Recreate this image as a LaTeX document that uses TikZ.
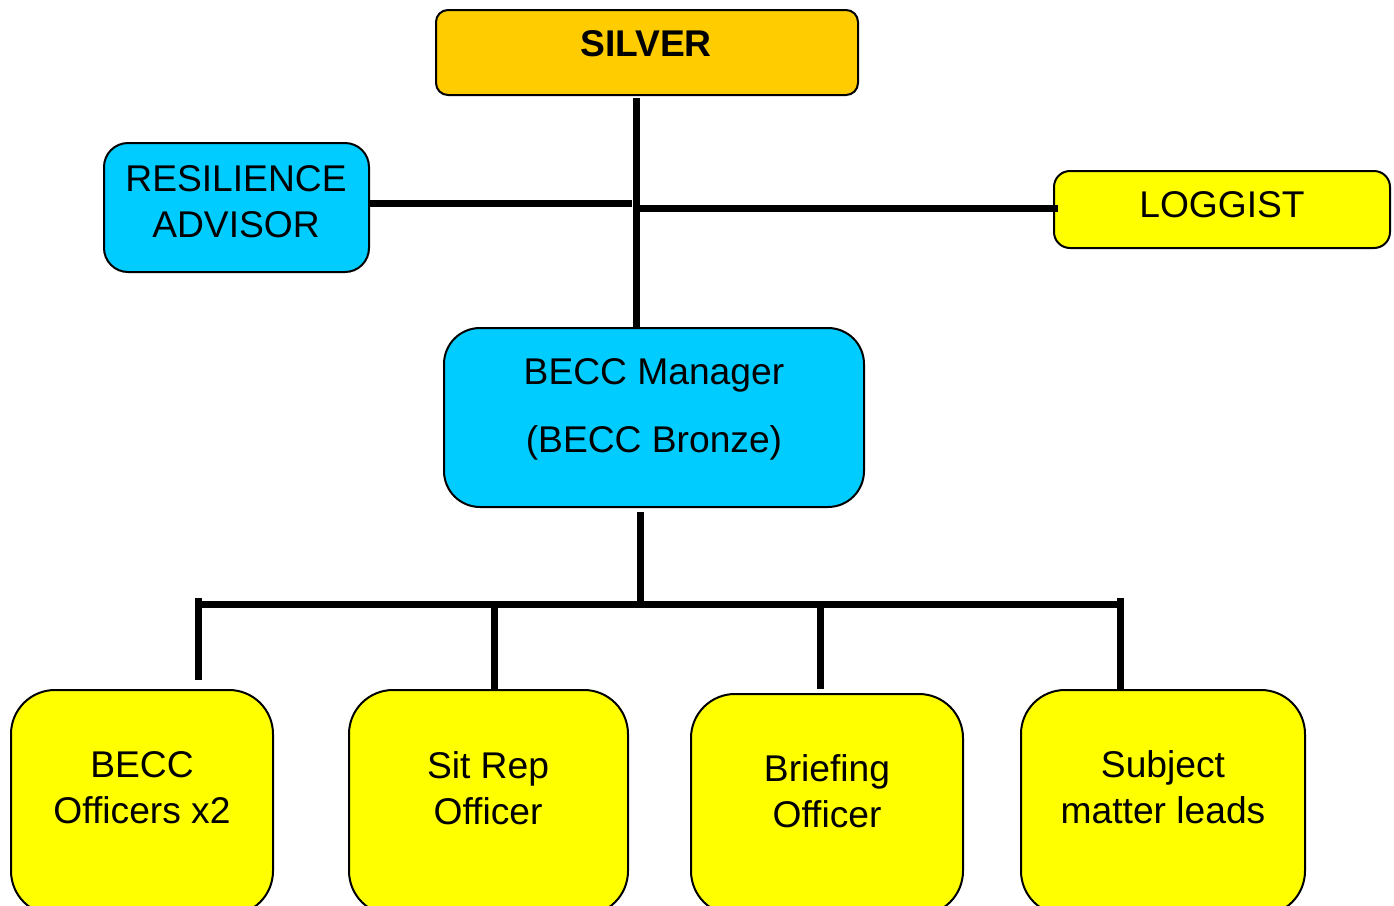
\documentclass[tikz,border=0pt]{standalone}
\usepackage{fontspec}
\setmainfont{Liberation Sans}
\definecolor{silverc}{HTML}{FFCC00}
\definecolor{cyanc}{HTML}{00CCFF}
\definecolor{yellowc}{HTML}{FFFF00}
\begin{document}
\begin{tikzpicture}[x=0.5pt,y=-0.5pt,
  box/.style={draw=black,line width=1pt,rectangle,inner sep=0pt},
  lbl/.style={align=center,font=\fontsize{18.6}{23}\selectfont,inner sep=0pt},
  conn/.style={line width=3.5pt,line cap=rect}]
\clip (0,0) rectangle (1394,906);
\fill[white] (0,0) rectangle (1394,906);
% boxes
\node[box,fill=silverc,rounded corners=6pt,minimum width=211pt,minimum height=42.5pt] (silver) at (647,52.5) {};
\node[box,fill=cyanc,rounded corners=12pt,minimum width=132.5pt,minimum height=64.5pt] (res) at (236.5,207.5) {};
\node[box,fill=yellowc,rounded corners=8pt,minimum width=168pt,minimum height=38.5pt] (log) at (1222,209.5) {};
\node[box,fill=cyanc,rounded corners=18pt,minimum width=210pt,minimum height=89.5pt] (mgr) at (654,417.5) {};
\node[box,fill=yellowc,rounded corners=22pt,minimum width=131pt,minimum height=112.5pt] (b1) at (142,802.5) {};
\node[box,fill=yellowc,rounded corners=22pt,minimum width=139.5pt,minimum height=112.5pt] (b2) at (488.5,802.5) {};
\node[box,fill=yellowc,rounded corners=22pt,minimum width=136pt,minimum height=110.5pt] (b3) at (827,804.5) {};
\node[box,fill=yellowc,rounded corners=22pt,minimum width=142pt,minimum height=112.5pt] (b4) at (1163,802.5) {};
% labels
\node[lbl,font=\fontsize{18.6}{23}\selectfont\bfseries] (tsilver) at (646,44) {SILVER};
\node[lbl] (tres) at (236,202) {RESILIENCE\\ADVISOR};
\node[lbl] (tlog) at (1222,205) {LOGGIST};
\node[lbl] (tmgr) at (654,409) {BECC Manager\\[11pt](BECC Bronze)};
\node[lbl] (tb1) at (142,788) {BECC\\Officers x2};
\node[lbl] (tb2) at (488,788) {Sit Rep\\Officer};
\node[lbl] (tb3) at (827,791) {Briefing\\Officer};
\node[lbl] (tb4) at (1163,787) {Subject\\matter leads};
% junction coordinates
\coordinate (vtop) at (636,98);
\coordinate (vbot) at (636,327);
\coordinate (resj) at (632,203);
\coordinate (logj) at (639,208);
\coordinate (logend) at (1058,208);
\coordinate (mtop) at (640,512);
\coordinate (mbot) at (640,604);
\coordinate (hl) at (198,604);
\coordinate (hr) at (1120,604);
\coordinate (d1t) at (198,598);
\coordinate (d1b) at (198,680);
\coordinate (d2t) at (494,604);
\coordinate (d3t) at (820,604);
\coordinate (d4t) at (1120,598);
% connectors
\draw[conn,line cap=butt] (vtop) -- (vbot);
\draw[conn,line cap=butt] (res.east |- resj) -- (resj);
\draw[conn,line cap=butt] (logj) -- (logend);
\draw[conn,line cap=butt] (mtop) -- (mbot);
\draw[conn] (hl) -- (hr);
\draw[conn,line cap=butt] (d1t) -- (d1b);
\draw[conn,line cap=butt] (d2t) -- (d2t |- b2.north);
\draw[conn,line cap=butt] (d3t) -- (d3t |- b2.north);
\draw[conn,line cap=butt] (d4t) -- (d4t |- b4.north);
\end{tikzpicture}
\end{document}
